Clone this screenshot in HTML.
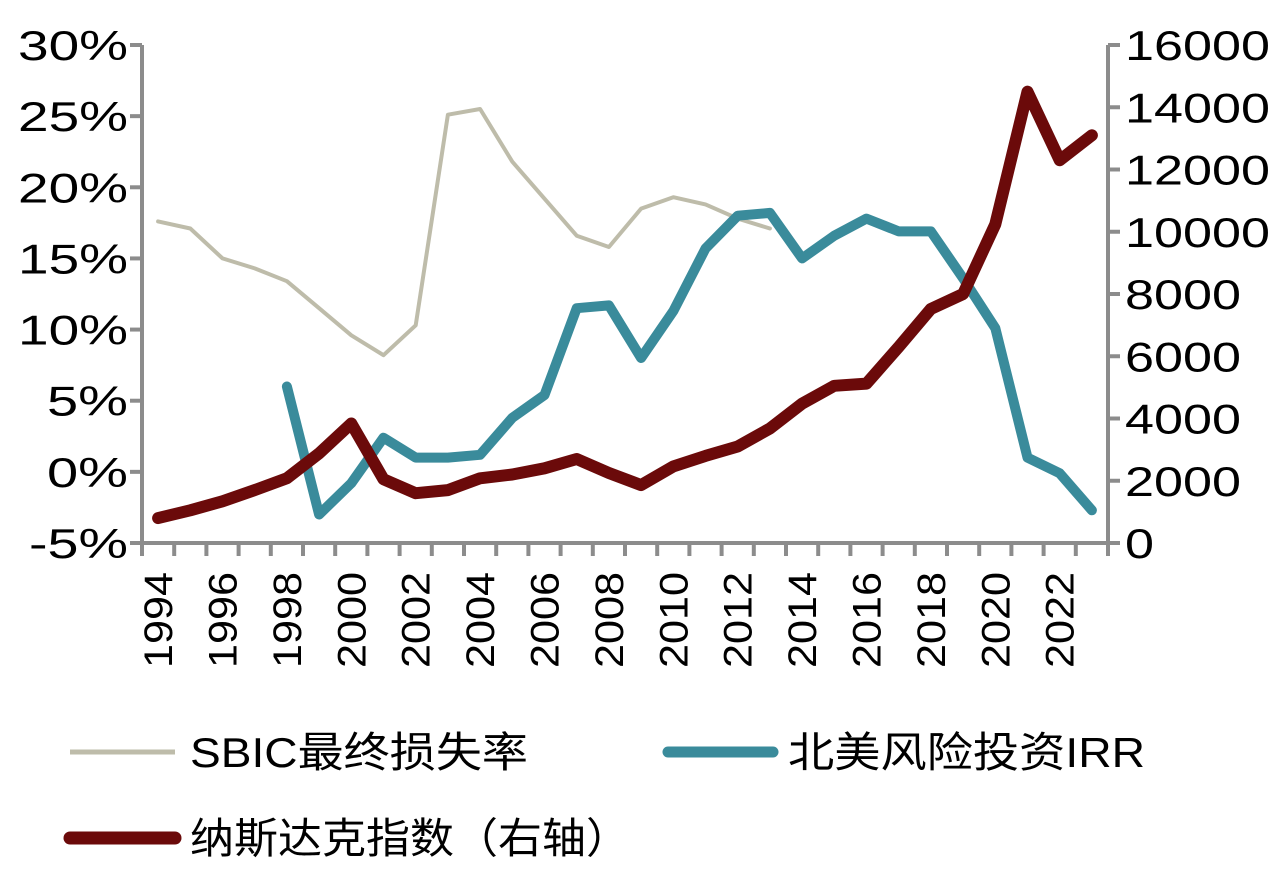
<!DOCTYPE html>
<html><head><meta charset="utf-8"><style>
body{margin:0;background:#fff}
svg text{font-family:"Liberation Sans","Noto Sans CJK SC",sans-serif;fill:#000}
</style></head><body>
<svg width="1281" height="876" viewBox="0 0 1281 876">
<g id="axes"></g>
<g id="series"></g>
<g id="legend">
  <line x1="70" y1="752" x2="175" y2="752" stroke="#bebcaa" stroke-width="5"/>
  <text x="190" y="767" font-size="42" textLength="338" lengthAdjust="spacingAndGlyphs">SBIC最终损失率</text>
  <line x1="668" y1="752" x2="773" y2="752" stroke="#3a8b9b" stroke-width="11" stroke-linecap="round"/>
  <text x="788" y="767" font-size="42" textLength="357" lengthAdjust="spacingAndGlyphs">北美风险投资IRR</text>
  <line x1="70" y1="838" x2="175" y2="838" stroke="#6b0a0a" stroke-width="13" stroke-linecap="round"/>
  <text x="190" y="853" font-size="42" textLength="440" lengthAdjust="spacingAndGlyphs">纳斯达克指数（右轴）</text>
</g>
</svg>
<script>
const years=[1994,1995,1996,1997,1998,1999,2000,2001,2002,2003,2004,2005,2006,2007,2008,2009,2010,2011,2012,2013,2014,2015,2016,2017,2018,2019,2020,2021,2022,2023];
const sbic=[17.6,17.1,15.0,14.3,13.4,11.5,9.6,8.2,10.3,25.1,25.5,21.8,19.2,16.6,15.8,18.5,19.3,18.8,17.8,17.1,null,null,null,null,null,null,null,null,null,null];
const irr=[null,null,null,null,6.0,-3.0,-0.8,2.4,1.0,1.0,1.2,3.8,5.4,11.5,11.7,8.0,11.3,15.7,18.0,18.2,15.0,16.6,17.8,16.9,16.9,13.6,10.1,1.0,-0.1,-2.7];
const nasdaq=[800,1050,1340,1700,2080,2880,3840,2050,1600,1700,2080,2200,2400,2700,2250,1860,2460,2800,3100,3680,4480,5050,5120,6300,7520,8000,10240,14500,12300,13100];
const leftTicks=[-5,0,5,10,15,20,25,30];
const rightTicks=[0,2000,4000,6000,8000,10000,12000,14000,16000];
const NS='http://www.w3.org/2000/svg';
const X0=142,X1=1108,Y0=45,Y1=543;
const step=(X1-X0)/years.length;
const xs=i=>X0+step*(i+0.5);
const yl=v=>Y1-(v+5)/35*(Y1-Y0);
const yr=v=>Y1-v/16000*(Y1-Y0);
function mk(t,a,p){const e=document.createElementNS(NS,t);for(const k in a)e.setAttribute(k,a[k]);p.appendChild(e);return e;}
function tw(s){let w=0;for(const c of s){w+=c==='%'?52:(c==='-'?18:29);}return w;}
const ax=document.getElementById('axes'),se=document.getElementById('series');
const gc='#8c8c8c';
let e=mk('line',{x1:X0,y1:Y0,x2:X0,y2:Y1+2,stroke:gc,'stroke-width':4},ax);


e=mk('line',{x1:X1,y1:Y0,x2:X1,y2:Y1+2,stroke:gc,'stroke-width':4},ax);


e=mk('line',{x1:X0-2,y1:Y1,x2:X1+2,y2:Y1,stroke:gc,'stroke-width':4},ax);


leftTicks.forEach(v=>{const y=yl(v);const s=v+'%';
 mk('line',{x1:X0-12,y1:y,x2:X0,y2:y,stroke:gc,'stroke-width':4},ax);
 const t=mk('text',{x:128,y:y+15,'font-size':42,'text-anchor':'end',textLength:tw(s),lengthAdjust:'spacingAndGlyphs'},ax);t.textContent=s;
 
 });
rightTicks.forEach(v=>{const y=yr(v);const s=String(v);
 mk('line',{x1:X1,y1:y,x2:X1+12,y2:y,stroke:gc,'stroke-width':4},ax);
 const t=mk('text',{x:1125,y:y+15,'font-size':42,textLength:tw(s),lengthAdjust:'spacingAndGlyphs'},ax);t.textContent=s;
 
 });
for(let i=0;i<=years.length;i++){const x=X0+step*i;mk('line',{x1:x,y1:Y1,x2:x,y2:Y1+13,stroke:gc,'stroke-width':4},ax);}
years.forEach((yv,i)=>{if(i%2)return;const x=xs(i)+14;
 const t=mk('text',{x:x,y:572,'font-size':40,'text-anchor':'end',textLength:96,lengthAdjust:'spacingAndGlyphs',transform:`rotate(-90 ${x} 572)`},ax);t.textContent=yv;
 
 });
function line(data,yf,col,w,name){let d='';data.forEach((v,i)=>{if(v==null)return;d+=(d?'L':'M')+xs(i).toFixed(1)+' '+yf(v).toFixed(1);});
 const p=mk('path',{d:d,fill:'none',stroke:col,'stroke-width':w,'stroke-linejoin':'round','stroke-linecap':'round'},se);
 
 }
line(sbic,yl,'#bebcaa',4,'sbic-line');
line(irr,yl,'#3a8b9b',10,'irr-line');
line(nasdaq,yr,'#6b0a0a',12,'nasdaq-line');
</script>
</body></html>
